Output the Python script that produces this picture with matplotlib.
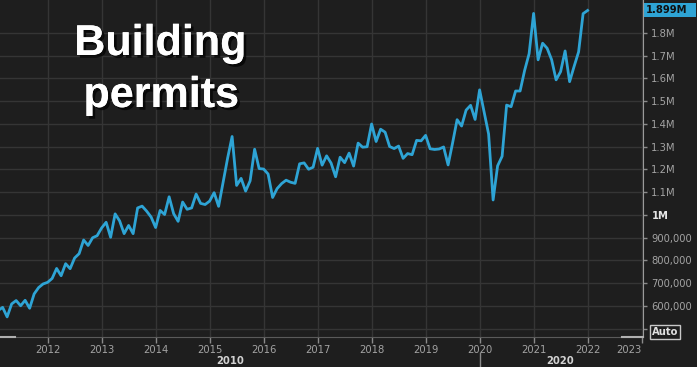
import matplotlib
matplotlib.use('Agg')
import matplotlib.pyplot as plt
import matplotlib.patheffects as pe
import matplotlib.transforms as mtrans
from matplotlib import font_manager as fm
from matplotlib.lines import Line2D
from matplotlib.patches import Rectangle
import numpy as np

# ---------------- data (thousands of units, SAAR) ----------------
start_year = 2011
start_month = 2
permits_2011 = [580, 594, 552, 609, 624, 601, 625, 590, 653, 681, 697]          # Feb-Dec
permits_2012 = [704, 721, 765, 733, 786, 764, 811, 830, 890, 866, 900, 909]
permits_2013 = [943, 968, 902, 1005, 974, 918, 954, 918, 1031, 1039, 1017, 991]
permits_2014 = [945, 1020, 1002, 1080, 1006, 972, 1057, 1025, 1031, 1092, 1051, 1046]
permits_2015 = [1061, 1098, 1038, 1143, 1250, 1345, 1130, 1161, 1105, 1150, 1289, 1204]
permits_2016 = [1202, 1180, 1077, 1116, 1138, 1153, 1144, 1139, 1225, 1229, 1201, 1210]
permits_2017 = [1293, 1219, 1260, 1228, 1168, 1254, 1230, 1272, 1215, 1316, 1298, 1300]
permits_2018 = [1400, 1323, 1377, 1364, 1301, 1292, 1303, 1249, 1270, 1265, 1328, 1326]
permits_2019 = [1350, 1291, 1288, 1290, 1299, 1220, 1317, 1419, 1391, 1461, 1482, 1420]
permits_2020 = [1550, 1452, 1356, 1066, 1216, 1258, 1483, 1476, 1545, 1545, 1635, 1709]
permits_2021 = [1886, 1682, 1755, 1733, 1683, 1594, 1630, 1721, 1586, 1653, 1717, 1885]
permits_2022 = [1899]                                                            # Jan

year_ticks = [2012, 2013, 2014, 2015, 2016, 2017, 2018, 2019, 2020, 2021, 2022, 2023]
y_ticks = [500000, 600000, 700000, 800000, 900000, 1000000, 1100000, 1200000,
           1300000, 1400000, 1500000, 1600000, 1700000, 1800000]
y_labels = ['', '600,000', '700,000', '800,000', '900,000', '1M', '1.1M', '1.2M',
            '1.3M', '1.4M', '1.5M', '1.6M', '1.7M', '1.8M']
last_label = '1.899M'
decade_labels = ['2010', '2020']
decade_pos = [2015.38, 2021.5]
decade_split = 2020
title_lines = ['Building', 'permits']

values = np.array(permits_2011 + permits_2012 + permits_2013 + permits_2014 +
                  permits_2015 + permits_2016 + permits_2017 + permits_2018 +
                  permits_2019 + permits_2020 + permits_2021 + permits_2022) * 1000.0
x = start_year + (start_month - 1 + np.arange(len(values))) / 12.0

# ---------------- fonts ----------------
def find_condensed(bold):
    best = None
    for f in fm.fontManager.ttflist:
        fn = f.fname.lower()
        is_narrow = ('narrow' in fn or 'condensed' in fn or
                     str(f.stretch) in ('condensed', 'semi-condensed', '500', '400'))
        if not ('narrow' in fn or 'condensed' in fn):
            continue
        if 'oblique' in fn or 'italic' in fn:
            continue
        w = f.weight if isinstance(f.weight, int) else (700 if 'bold' in str(f.weight) else 400)
        if bold != (w >= 600 or 'bold' in fn):
            continue
        score = 0 if 'liberation' in fn else (1 if 'dejavu' in fn else 2)
        if best is None or score < best[0]:
            best = (score, f.fname)
    return best[1] if best else None

reg_path = find_condensed(False)
bold_path = find_condensed(True)

def fp(size, bold=False):
    path = bold_path if bold else reg_path
    if path:
        return fm.FontProperties(fname=path, size=size)
    return fm.FontProperties(family='DejaVu Sans', size=size * 0.88,
                             weight='bold' if bold else 'normal')

title_fam = ['Liberation Sans', 'DejaVu Sans']

BG = '#1e1e1e'
GRID = '#353535'
LINE = '#2ea4d5'
TXT = '#a3a3a3'

W, H = 697, 367
fig = plt.figure(figsize=(W / 100, H / 100), dpi=100, facecolor=BG)
ax_right_px, ax_bottom_px = 643, 337
ax = fig.add_axes([0, (H - ax_bottom_px) / H, ax_right_px / W, ax_bottom_px / H])
ax.set_facecolor(BG)

ax.plot(x, values, color=LINE, lw=2.0, solid_joinstyle='round', zorder=3)

ax.set_xlim(2011.118, 2023.026)
ax.set_ylim(463700, 1945000)

ax.set_xticks(year_ticks)
ax.set_xticklabels([str(y) for y in year_ticks], color=TXT)
for lab in ax.get_xticklabels():
    lab.set_fontproperties(fp(8))
ax.get_xticklabels()[-1].set_horizontalalignment('right')

ax.yaxis.tick_right()
ax.set_yticks(y_ticks)
ax.set_yticklabels(y_labels, color=TXT)
for lab in ax.get_yticklabels():
    if lab.get_text() == '1M':
        lab.set_fontproperties(fp(8, True))
        lab.set_color('#e6e6e6')
    else:
        lab.set_fontproperties(fp(8))

ax.tick_params(axis='x', length=4, width=1, color='#8a8a8a', pad=2)
ax.tick_params(axis='y', length=3, width=1, color='#8a8a8a', pad=3)

ax.grid(True, color=GRID, lw=1)
ax.set_axisbelow(True)
for s in ['top', 'left']:
    ax.spines[s].set_visible(False)
ax.spines['bottom'].set_color('#5a5a5a')
ax.spines['right'].set_color('#9a9a9a')

# light scroll handles on bottom axis
fig.add_artist(Line2D([0, 15 / W], [(H - ax_bottom_px) / H] * 2, color='#b0b0b0', lw=1.5))
fig.add_artist(Line2D([622 / W, ax_right_px / W], [(H - ax_bottom_px) / H] * 2, color='#b0b0b0', lw=1.5))

# decade row
trans_dec = mtrans.blended_transform_factory(ax.transData, fig.transFigure)
for lab, pos in zip(decade_labels, decade_pos):
    ax.text(pos, 1 - 361 / H, lab, transform=trans_dec, ha='center', va='center',
            fontproperties=fp(8, True), color='#d2d2d2')
ax.add_artist(Line2D([decade_split, decade_split], [0, 1 - 353 / H], transform=trans_dec,
                     color='#8a8a8a', lw=1, clip_on=False))

# last value label
trans_y = mtrans.blended_transform_factory(fig.transFigure, ax.transData)
last_val = values[-1]
ppx = (1945000 - 463700) / 337
ax.add_artist(Rectangle((644 / W, last_val - 7 * ppx), 52 / W, 14 * ppx,
                        transform=trans_y, facecolor='#2ea4d5', edgecolor='none', clip_on=False))
ax.text(646 / W, last_val, last_label, transform=trans_y, ha='left', va='center',
        fontproperties=fp(8, True), color='#101010', clip_on=False)

# Auto box
fig.text(665 / W, 1 - 332 / H, 'Auto', ha='center', va='center', fontproperties=fp(8, True),
         color='#e0e0e0', bbox=dict(facecolor='none', edgecolor='#c8c8c8', lw=1, pad=1.2))

# title
shadow = [pe.withSimplePatchShadow(offset=(2, -2), shadow_rgbFace='black', alpha=0.7), pe.Normal()]
fig.text(160 / W, 1 - 55 / H, title_lines[0], ha='center', va='baseline', family=title_fam,
         fontsize=31, fontweight='bold', color='white', path_effects=shadow)
fig.text(161 / W, 1 - 107 / H, title_lines[1], ha='center', va='baseline', family=title_fam,
         fontsize=31, fontweight='bold', color='white', path_effects=shadow)

fig.savefig('out.png', dpi=100, facecolor=BG)
